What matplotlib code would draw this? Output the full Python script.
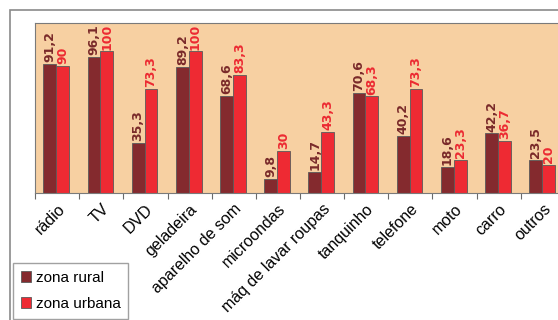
import numpy as np
import matplotlib
matplotlib.use("Agg")
import matplotlib.pyplot as plt
from matplotlib.patches import Rectangle

RURAL = "#842a2e"
URBAN = "#ee2a33"
RURAL_TXT = "#7a2a2a"
URBAN_TXT = "#ec2a32"
PEACH = "#f7d0a2"
EDGE = "#5a5a5a"

categories = ["rádio", "TV", "DVD", "geladeira", "aparelho de som", "microondas",
              "máq de lavar roupas", "tanquinho", "telefone", "moto", "carro", "outros"]
rural = [91.2, 96.1, 35.3, 89.2, 68.6, 9.8, 14.7, 70.6, 40.2, 18.6, 42.2, 23.5]
urbana = [90, 100, 73.3, 100, 83.3, 30, 43.3, 68.3, 73.3, 23.3, 36.7, 20]
series_names = ["zona rural", "zona urbana"]

plt.rcParams["font.family"] = ["Liberation Sans", "DejaVu Sans"]

fig = plt.figure(figsize=(5.58, 3.2), dpi=100)
fig.patches.append(Rectangle((10 / 558, -0.1), 1.2, 1.1 - 10 / 320,
                             transform=fig.transFigure, fill=False,
                             edgecolor="#8a8a8a", lw=1.2))

ax = fig.add_axes([35 / 558, 127 / 320, 530 / 558, 170 / 320])
ax.set_facecolor(PEACH)

x = np.arange(len(categories))
w = 0.29
b1 = ax.bar(x - w / 2 - 0.02, rural, w, color=RURAL, edgecolor=EDGE, lw=0.6,
            label=series_names[0])
b2 = ax.bar(x + w / 2 - 0.02, urbana, w, color=URBAN, edgecolor=EDGE, lw=0.6,
            label=series_names[1])

def fmt(v):
    s = f"{v:g}"
    return s.replace(".", ",")

for bars, vals, c in ((b1, rural, RURAL_TXT), (b2, urbana, URBAN_TXT)):
    for bar, v in zip(bars, vals):
        ax.text(bar.get_x() + bar.get_width() / 2, v + 1.2, fmt(v),
                rotation=90, ha="center", va="bottom", fontsize=9,
                family="DejaVu Sans", fontweight="bold", color=c, clip_on=False)

ax.set_xlim(-0.5, len(categories) - 0.5)
ax.set_ylim(0, 120)
ax.set_yticks([])
ax.set_xticks(np.arange(len(categories) + 1) - 0.5, minor=False)
ax.set_xticklabels([])
ax.tick_params(axis="x", length=4, color="#6a6a6a", width=0.8)
ax.set_xticks(x, minor=True)
ax.set_xticklabels(categories, minor=True, rotation=45, ha="right",
                   rotation_mode="anchor", fontsize=11.5)
ax.tick_params(axis="x", which="minor", length=0, pad=6)
for s in ax.spines.values():
    s.set_color("#7a7a7a")
    s.set_linewidth(0.8)

leg = fig.legend(loc="upper left", bbox_to_anchor=(13 / 558, 1 - 263 / 320),
                 fontsize=11, frameon=True, fancybox=False, edgecolor="#8a8a8a",
                 handlelength=0.7, handleheight=0.7, handletextpad=0.3,
                 labelspacing=0.8, borderpad=0.5, borderaxespad=0)
leg.get_frame().set_linewidth(1.0)

fig.savefig("out.png", dpi=100)
